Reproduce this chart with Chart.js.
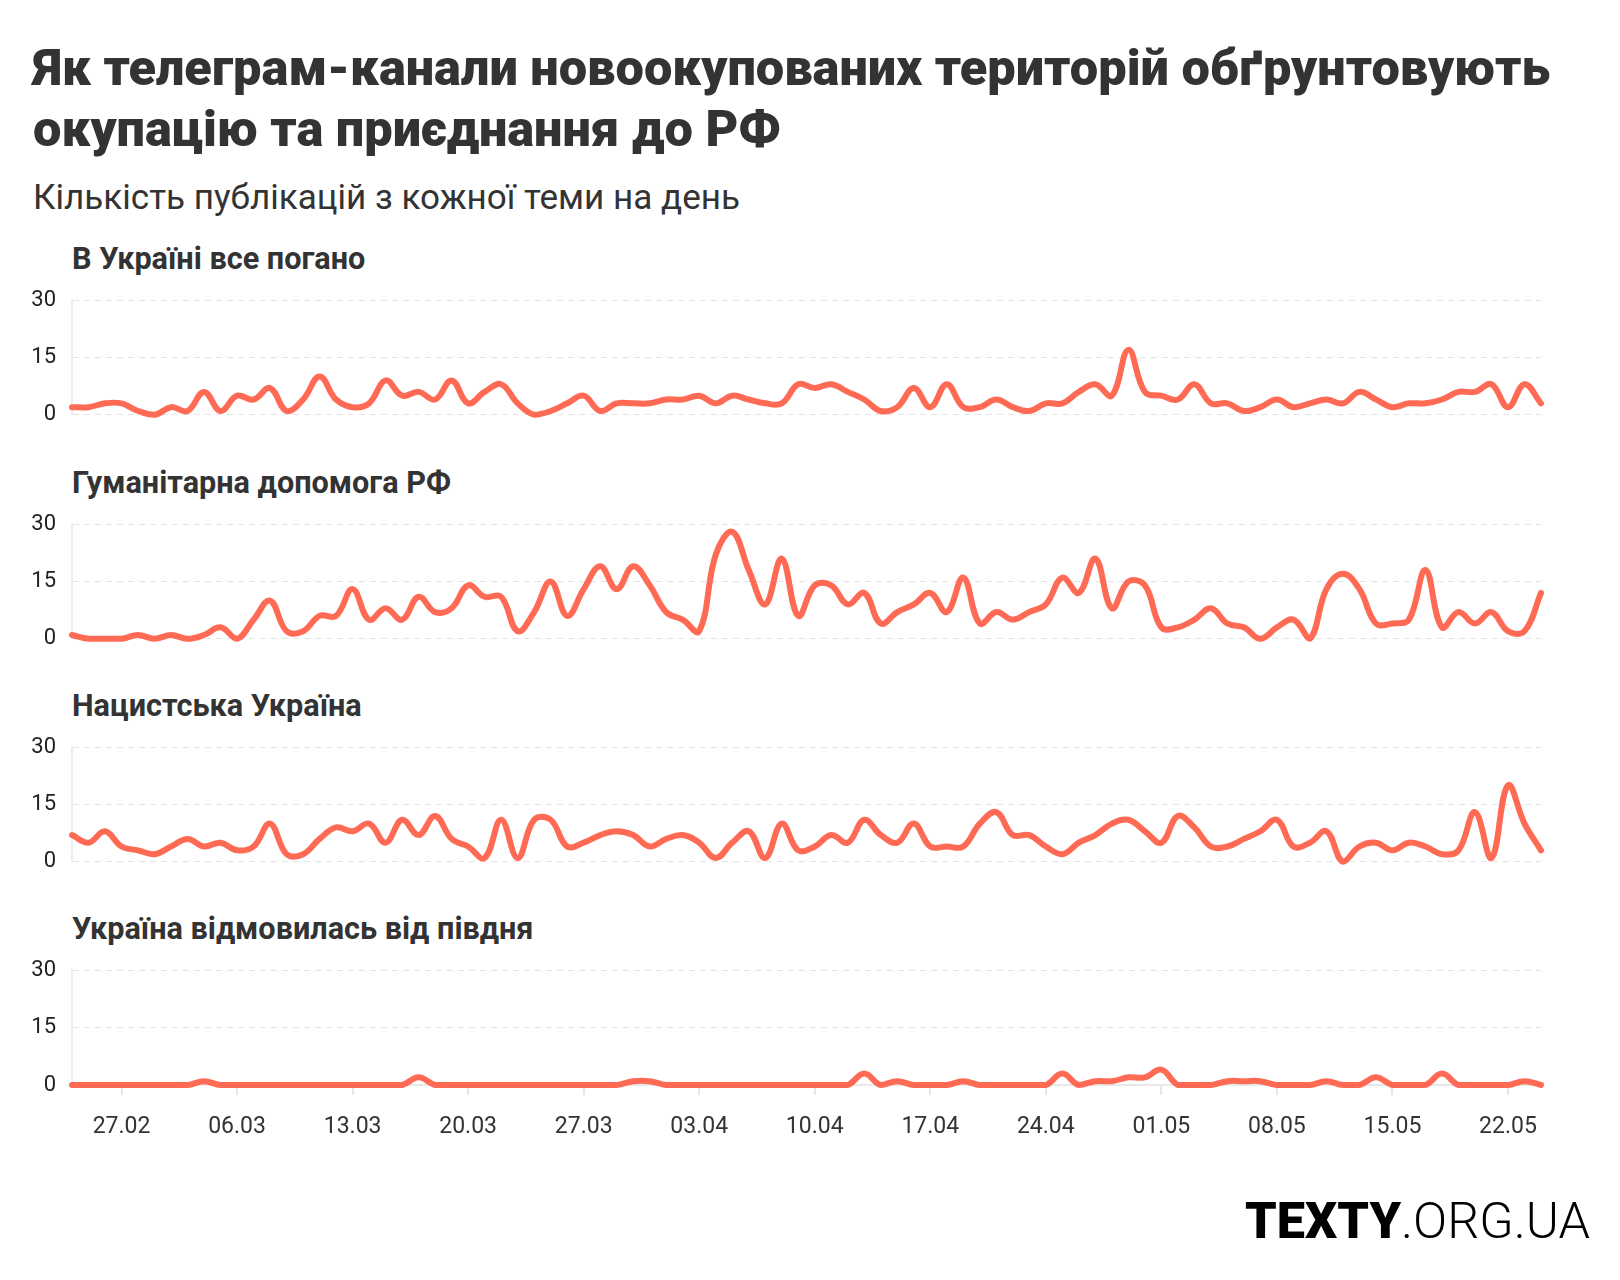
<!DOCTYPE html>
<html>
<head>
<meta charset="utf-8">
<script src="https://cdn.jsdelivr.net/npm/chart.js@4.4.0/dist/chart.umd.min.js"></script>
<style>
  html, body { margin: 0; padding: 0; background: #fff; }
  body { width: 1620px; height: 1280px; position: relative; overflow: hidden; font-family: Roboto, "Noto Sans", sans-serif; }
  .t { position: absolute; white-space: nowrap; line-height: 1; color: #333; }
  canvas { position: absolute; left: 0; }
</style>
</head>
<body>
<div class="t" id="title1" data-b="86" style="left:33px;font-weight:900;font-size:47px">Як телеграм-канали новоокупованих територій обґрунтовують</div>
<div class="t" id="title2" data-b="147" style="left:33px;font-weight:900;font-size:47px">окупацію та приєднання до РФ</div>
<div class="t" id="subtitle" data-b="210" style="left:33px;font-weight:400;font-size:30px">Кількість публікацій з кожної теми на день</div>
<div class="t pt" id="p0" style="left:72px;font-weight:700;font-size:25px"></div>
<div class="t pt" id="p1" style="left:72px;font-weight:700;font-size:25px"></div>
<div class="t pt" id="p2" style="left:72px;font-weight:700;font-size:25px"></div>
<div class="t pt" id="p3" style="left:72px;font-weight:700;font-size:25px"></div>
<div class="t" id="logo" data-b="1238" style="left:1245px;font-size:50px;color:#000"><span style="font-weight:900">TEXTY</span><span style="font-weight:300">.ORG.UA</span></div>

<script>
// ---------- DATA ----------
const days = [
  '24.02','25.02','26.02','27.02','28.02',
  '01.03','02.03','03.03','04.03','05.03','06.03','07.03','08.03','09.03','10.03',
  '11.03','12.03','13.03','14.03','15.03','16.03','17.03','18.03','19.03','20.03',
  '21.03','22.03','23.03','24.03','25.03','26.03','27.03','28.03','29.03','30.03','31.03',
  '01.04','02.04','03.04','04.04','05.04','06.04','07.04','08.04','09.04','10.04',
  '11.04','12.04','13.04','14.04','15.04','16.04','17.04','18.04','19.04','20.04',
  '21.04','22.04','23.04','24.04','25.04','26.04','27.04','28.04','29.04','30.04',
  '01.05','02.05','03.05','04.05','05.05','06.05','07.05','08.05','09.05','10.05',
  '11.05','12.05','13.05','14.05','15.05','16.05','17.05','18.05','19.05','20.05',
  '21.05','22.05','23.05','24.05'
];
const tickLabels = ['27.02','06.03','13.03','20.03','27.03','03.04','10.04','17.04','24.04','01.05','08.05','15.05','22.05'];
const yTicks = [0, 15, 30];

const topics = [
  'В Україні все погано',
  'Гуманітарна допомога РФ',
  'Нацистська Україна',
  'Україна відмовилась від півдня'
];

const allBad = [2,2,3,3,1,0,2,1,6,1, 5,4,7,1,4,10,4,2,3,9, 5,6,4,9,3,6,8,3,0,1,
                3,5,1,3,3,3,4,4,5,3, 5,4,3,3,8,7,8,6,4,1, 2,7,2,8,2,2,4,2,1,3,
                3,6,8,5,17,6,5,4,8,3, 3,1,2,4,2,3,4,3,6,4, 2,3,3,4,6,6,8,2,8,3];
const humanitarianAid = [1,0,0,0,1,0,1,0,1,3, 0,5,10,2,2,6,6,13,5,8, 5,11,7,8,14,11,11,2,7,15,
                6,13,19,13,19,14,7,5,2,22, 28,18,9,21,6,14,14,9,12,4, 7,9,12,7,16,4,7,5,7,9,
                16,12,21,8,15,14,3,3,5,8, 4,3,0,3,5,0,13,17,13,4, 4,5,18,3,7,4,7,2,2,12];
const naziUkraine = [7,5,8,4,3,2,4,6,4,5, 3,4,10,2,2,6,9,8,10,5, 11,7,12,6,4,1,11,1,11,11,
                4,5,7,8,7,4,6,7,5,1, 5,8,1,10,3,4,7,5,11,7, 5,10,4,4,4,10,13,7,7,4,
                2,5,7,10,11,8,5,12,9,4, 4,6,8,11,4,5,8,0,4,5, 3,5,4,2,3,13,1,20,10,3];
const southAbandoned = [0,0,0,0,0,0,0,0,1,0, 0,0,0,0,0,0,0,0,0,0, 0,2,0,0,0,0,0,0,0,0,
                0,0,0,0,1,1,0,0,0,0, 0,0,0,0,0,0,0,0,3,0, 1,0,0,0,1,0,0,0,0,0,
                3,0,1,1,2,2,4,0,0,0, 1,1,1,0,0,0,1,0,0,2, 0,0,0,3,0,0,0,0,1,0];

const seriesList = [allBad, humanitarianAid, naziUkraine, southAbandoned];

// ---------- LAYOUT ----------
const LINE_COLOR = '#ff6a55';
const panelTop = [300, 524, 747, 970];   // y of the "30" gridline
const plotH = 115;                       // height from 30 to 0
const padTop = 22;
const padBottom = 14;
const xAxisH = 64;
const canvasW = 1560;

const charts = [];

function buildPanel(k) {
  const last = k === seriesList.length - 1;
  const cv = document.createElement('canvas');
  const h = padTop + plotH + (last ? xAxisH : padBottom);
  cv.width = canvasW; cv.height = h;
  cv.style.width = canvasW + 'px'; cv.style.height = h + 'px';
  cv.style.top = (panelTop[k] - padTop) + 'px';
  document.body.appendChild(cv);

  const ch = new Chart(cv.getContext('2d'), {
    type: 'line',
    data: {
      labels: days,
      datasets: [{
        label: topics[k],
        data: seriesList[k],
        borderColor: LINE_COLOR,
        backgroundColor: LINE_COLOR,
        borderWidth: 6,
        pointRadius: 0,
        pointHoverRadius: 0,
        tension: 0.4,
        fill: false,
        borderCapStyle: 'round',
        borderJoinStyle: 'round',
        clip: false
      }]
    },
    options: {
      responsive: false,
      maintainAspectRatio: false,
      animation: false,
      events: [],
      layout: { padding: { top: padTop, right: canvasW - 1541, bottom: last ? 0 : padBottom, left: 0 } },
      plugins: { legend: { display: false }, tooltip: { enabled: false }, title: { display: false } },
      scales: {
        x: {
          type: 'category',
          display: last,
          offset: false,
          grid: {
            display: true,
            drawOnChartArea: false,
            drawTicks: true,
            tickLength: 10,
            lineWidth: 2,
            color: (c) => (c.index !== undefined && tickLabels.includes(days[c.index])) ? '#e6e6e6' : 'rgba(0,0,0,0)'
          },
          border: { display: true, color: '#e8e8e8', width: 2 },
          ticks: {
            autoSkip: false,
            maxRotation: 0,
            minRotation: 0,
            padding: 18,
            color: '#333',
            font: { family: 'Roboto', size: 23, weight: '400' },
            callback: (v, i) => tickLabels.includes(days[i]) ? days[i] : ''
          },
          afterFit: (s) => { if (last) s.height = xAxisH; }
        },
        y: {
          min: 0, max: 30,
          afterBuildTicks: (s) => { s.ticks = yTicks.map(v => ({ value: v })); },
          ticks: {
            autoSkip: false,
            padding: 16,
            color: '#222',
            font: { family: 'Roboto', size: 22, weight: '400' }
          },
          grid: { color: '#e4e4e4', lineWidth: 1, drawTicks: false },
          border: { display: true, color: '#ececec', width: 2, dash: [6, 5] },
          afterFit: (s) => { s.width = 72; }
        }
      }
    }
  });
  charts.push(ch);
}

// make every plot exactly plotH tall and put its "30" line at panelTop
function alignPanels() {
  charts.forEach((ch, k) => {
    for (let it = 0; it < 3; it++) {
      const ca = ch.chartArea;
      const diff = plotH - (ca.bottom - ca.top);
      if (Math.abs(diff) < 0.5) break;
      const newH = Math.round(ch.height + diff);
      ch.resize(canvasW, newH);
    }
    ch.canvas.style.top = (panelTop[k] - ch.chartArea.top) + 'px';
  });
}

for (let k = 0; k < seriesList.length; k++) {
  const el = document.getElementById('p' + k);
  el.textContent = topics[k];
  el.dataset.b = panelTop[k] - 30;
  buildPanel(k);
}
alignPanels();

// ---------- text fitting ----------
function widthOf(el) { return el.getBoundingClientRect().width; }
function setBaseline(el) {
  const size = parseFloat(el.style.fontSize);
  el.style.top = (parseFloat(el.dataset.b) - 0.842 * size) + 'px';
}
function fitSize(el, target) {
  const base = parseFloat(el.style.fontSize);
  const w = widthOf(el);
  if (w > 0) el.style.fontSize = (base * target / w) + 'px';
}
function layoutText() {
  const t1 = document.getElementById('title1');
  const t2 = document.getElementById('title2');
  fitSize(t1, 1517);
  t2.style.fontSize = t1.style.fontSize;
  fitSize(document.getElementById('subtitle'), 707);
  const pts = [0,1,2,3].map(i => document.getElementById('p' + i));
  const targets = [293, 380, 291, 460];
  const base = parseFloat(pts[0].style.fontSize);
  let tw = 0, mw = 0;
  pts.forEach((p, i) => { mw += widthOf(p); tw += targets[i]; });
  if (mw > 0) pts.forEach(p => p.style.fontSize = (base * tw / mw) + 'px');
  fitSize(document.getElementById('logo'), 345);
  document.querySelectorAll('.t').forEach(setBaseline);
}
layoutText();

if (document.fonts && document.fonts.load) {
  Promise.all([
    document.fonts.load('900 20px Roboto'),
    document.fonts.load('700 20px Roboto'),
    document.fonts.load('400 20px Roboto'),
    document.fonts.load('300 20px Roboto')
  ]).then(() => {
    layoutText();
    charts.forEach(c => c.update('none'));
    alignPanels();
  });
}
</script>
</body>
</html>
